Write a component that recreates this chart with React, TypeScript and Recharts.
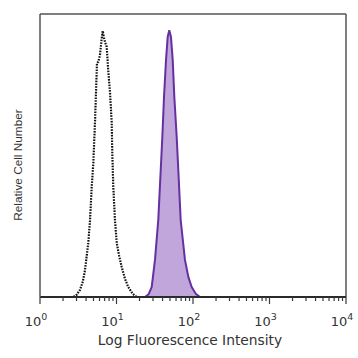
import React from "react";
import { ComposedChart, Line, Area, XAxis, YAxis, ReferenceLine } from "recharts";

// log10 fluorescence positions and relative counts (percent of full scale)
const isotypeLog = [0, 0.2, 0.435, 0.48, 0.523, 0.56, 0.588, 0.631, 0.654, 0.676, 0.697, 0.719, 0.732, 0.741, 0.745, 0.762, 0.784, 0.804, 0.82, 0.837, 0.85, 0.872, 0.893, 0.915, 0.937, 0.945, 0.958, 0.98, 1.003, 1.035, 1.068, 1.11, 1.154, 1.21, 1.264];
const isotypeCount = [0, 0, 0, 0.8, 2.5, 5.5, 9.5, 19.1, 27.2, 38.9, 47.3, 61.8, 72.4, 79.5, 82.7, 83.1, 85.5, 90.8, 94.0, 91.5, 90.1, 88.4, 79.6, 72.4, 61.8, 50.9, 38.9, 27.2, 19.1, 14.5, 10.6, 6.5, 3.5, 1.2, 0];

const stainedLog = [0.52, 1.0, 1.373, 1.42, 1.46, 1.503, 1.546, 1.578, 1.599, 1.621, 1.647, 1.669, 1.69, 1.712, 1.735, 1.756, 1.787, 1.808, 1.839, 1.895, 1.94, 1.983, 2.04, 2.092];
const stainedCount = [0, 0, 0, 1.0, 3.5, 13.1, 27.2, 44.9, 56.5, 70.7, 83.7, 91.9, 94.3, 91.9, 83.7, 70.7, 56.5, 44.9, 27.2, 13.1, 7.0, 3.5, 1.0, 0];

const decades = [0, 1, 2, 3, 4];
const minorMultipliers = [2, 3, 4, 5, 6, 7, 8, 9];
const xTitle = "Log Fluorescence Intensity";
const yTitle = "Relative Cell Number";

const isotypeData = isotypeLog.map((x, i) => ({ x, y: isotypeCount[i] }));
const stainedData = stainedLog.map((x, i) => ({ x, y: stainedCount[i] }));

const tickValues: number[] = [];
decades.forEach((d) => {
  tickValues.push(d);
  if (d < 4) minorMultipliers.forEach((m) => tickValues.push(d + Math.log10(m)));
});

const AXIS = "#3a3a3a";
const TEXT = "#333333";

const LogTick = (props: any) => {
  const { x, y, payload } = props;
  const v = payload.value as number;
  const major = Math.abs(v - Math.round(v)) < 1e-6;
  return (
    <g>
      <line x1={x} x2={x} y1={y} y2={y + (major ? 7 : 4)} stroke={AXIS} strokeWidth={1.2} />
      {major && (
        <text x={x - 4} y={y + 29} textAnchor="middle" fill={TEXT} fontFamily="DejaVu Sans" fontSize={13}>
          <tspan>10</tspan>
          <tspan dy={-6} fontSize={9.5}>{String(Math.round(v))}</tspan>
        </text>
      )}
    </g>
  );
};

const XTitle = (props: any) => {
  const { viewBox } = props;
  return (
    <text x={viewBox.x + viewBox.width / 2 - 3} y={viewBox.y + 48} textAnchor="middle" fill={TEXT} fontFamily="DejaVu Sans" fontSize={13.8}>
      {xTitle}
    </text>
  );
};

const YTitle = (props: any) => {
  const { viewBox } = props;
  const cx = viewBox.x + 22;
  const cy = viewBox.y + 151;
  return (
    <text x={cx} y={cy} transform={`rotate(-90 ${cx} ${cy})`} textAnchor="middle" fill={TEXT} fontFamily="Liberation Sans" fontSize={11.8}>
      {yTitle}
    </text>
  );
};

export default function App() {
  return (
    <div style={{ position: "absolute", left: 0, top: 0, width: 358, height: 358, overflow: "hidden" }}>
      <ComposedChart width={358} height={358} margin={{ top: 14, right: 12, left: 0, bottom: 0 }}>
        <XAxis
          xAxisId="b"
          type="number"
          dataKey="x"
          domain={[0, 4]}
          ticks={tickValues}
          interval={0}
          allowDataOverflow
          height={61}
          tickSize={0}
          tickMargin={0}
          tickLine={false}
          tick={<LogTick />}
          axisLine={{ stroke: "#2a2a2a", strokeWidth: 2 }}
          label={<XTitle />}
        />
        <YAxis
          yAxisId="l"
          type="number"
          domain={[0, 100]}
          width={40}
          tick={false}
          tickLine={false}
          axisLine={{ stroke: "#555", strokeWidth: 1.5 }}
          label={<YTitle />}
        />
        <ReferenceLine xAxisId="b" yAxisId="l" y={100} stroke="#555" strokeWidth={1.5} />
        <ReferenceLine xAxisId="b" yAxisId="l" x={4} stroke="#555" strokeWidth={1.5} />
        <Area
          xAxisId="b"
          yAxisId="l"
          data={stainedData}
          dataKey="y"
          type="linear"
          stroke="#6530a0"
          strokeWidth={2}
          fill="#c0a6da"
          fillOpacity={1}
          dot={false}
          activeDot={false}
          isAnimationActive={false}
        />
        <Line
          xAxisId="b"
          yAxisId="l"
          data={isotypeData}
          dataKey="y"
          type="linear"
          stroke="#111"
          strokeWidth={2.2}
          strokeDasharray="1.6 1.2"
          dot={false}
          activeDot={false}
          isAnimationActive={false}
        />
      </ComposedChart>
    </div>
  );
}
